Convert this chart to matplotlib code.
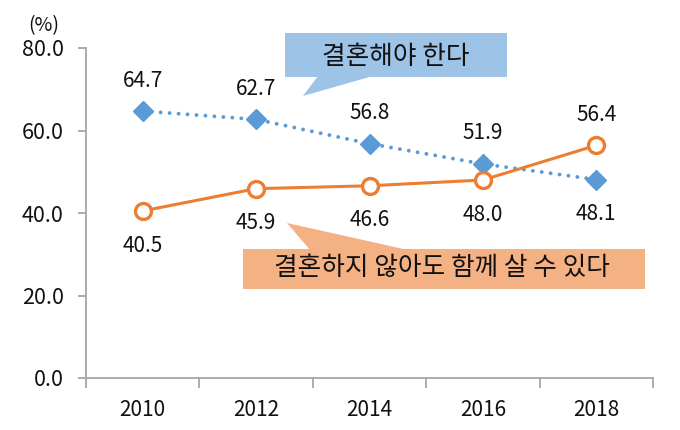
import matplotlib
matplotlib.use('Agg')
import matplotlib.pyplot as plt
from matplotlib.patches import Polygon, Rectangle

years = ['2010', '2012', '2014', '2016', '2018']
must_marry = [64.7, 62.7, 56.8, 51.9, 48.1]
cohabit = [40.5, 45.9, 46.6, 48.0, 56.4]
yticks = [0, 20, 40, 60, 80]
label_must = '결혼해야 한다'
label_cohabit = '결혼하지 않아도 함께 살 수 있다'

plt.rcParams['font.family'] = ['Noto Sans CJK KR', 'DejaVu Sans']

BLUE = '#5B9BD5'
ORANGE = '#ED7D31'
GRAY = '#A6A6A6'

fig = plt.figure(figsize=(6.8, 4.3), dpi=100)
ax = fig.add_axes([86/680, 52/430, 567/680, 330/430])

x = list(range(len(years)))
ax.plot(x, must_marry, color=BLUE, lw=2.8, ls=(0, (0.01, 2.3)),
        dash_capstyle='round', marker='D', ms=10.5, mfc=BLUE, mec=BLUE,
        zorder=3)
ax.plot(x, cohabit, color=ORANGE, lw=2.2, marker='o', ms=11.5,
        mfc='white', mec=ORANGE, mew=2.4, zorder=4)

ax.set_xlim(-0.5, len(years) - 0.5)
ax.set_ylim(0, 80)

for xi, v in zip(x, must_marry):
    above = v > cohabit[xi]
    ax.annotate(f'{v:.1f}', (xi, v), textcoords='offset points',
                xytext=(0, 22 if above else -25), ha='center', va='center',
                fontsize=15, color='#111111')
for xi, v in zip(x, cohabit):
    above = v > must_marry[xi]
    ax.annotate(f'{v:.1f}', (xi, v), textcoords='offset points',
                xytext=(0, 22 if above else -25), ha='center', va='center',
                fontsize=15, color='#111111')

# spines & ticks
for s in ['top', 'right']:
    ax.spines[s].set_visible(False)
for s in ['left', 'bottom']:
    ax.spines[s].set_color(GRAY)
    ax.spines[s].set_linewidth(1.3)

ax.set_yticks(yticks)
ax.set_yticklabels([f'{t:.1f}' for t in yticks])
ax.tick_params(axis='y', length=6, width=1.3, color=GRAY, pad=10,
               labelsize=15.5, labelcolor='#111111')
ax.set_xticks([i - 0.5 for i in range(len(years) + 1)])
ax.set_xticklabels([])
ax.tick_params(axis='x', which='major', length=7, width=1.3, color=GRAY)
ax.set_xticks(x, minor=True)
ax.set_xticklabels(years, minor=True)
ax.tick_params(axis='x', which='minor', length=0, pad=15, labelsize=15,
               labelcolor='#111111')

fig.text(44/680, 1 - 26/430, '(%)', ha='center', va='center', fontsize=14,
         color='#111111')

# callout boxes (axes fraction coordinates)
def fx(px):
    return (px - 86) / 567

def fy(py):
    return (378 - py) / 330

blue_box = '#9DC3E6'
ax.add_patch(Rectangle((fx(285), fy(77)), fx(507) - fx(285), fy(33) - fy(77),
                       transform=ax.transAxes, facecolor=blue_box,
                       edgecolor='none', clip_on=False, zorder=2))
ax.add_patch(Polygon([(fx(318), fy(76)), (fx(303), fy(96)), (fx(373), fy(76))],
                     closed=True, transform=ax.transAxes, facecolor=blue_box,
                     edgecolor='none', clip_on=False, zorder=2))
ax.text(fx(396), fy(57), label_must, transform=ax.transAxes, ha='center',
        va='center', fontsize=18.5, color='#111111', zorder=5)

orange_box = '#F4B183'
ax.add_patch(Rectangle((fx(243), fy(289)), fx(645) - fx(243), fy(249) - fy(289),
                       transform=ax.transAxes, facecolor=orange_box,
                       edgecolor='none', clip_on=False, zorder=2))
ax.add_patch(Polygon([(fx(287), fy(223)), (fx(310), fy(250)), (fx(408), fy(250))],
                     closed=True, transform=ax.transAxes, facecolor=orange_box,
                     edgecolor='none', clip_on=False, zorder=2))
ax.text(fx(442), fy(268), label_cohabit, transform=ax.transAxes, ha='center',
        va='center', fontsize=18.5, color='#111111', zorder=5)

fig.savefig('out.png', dpi=100)
